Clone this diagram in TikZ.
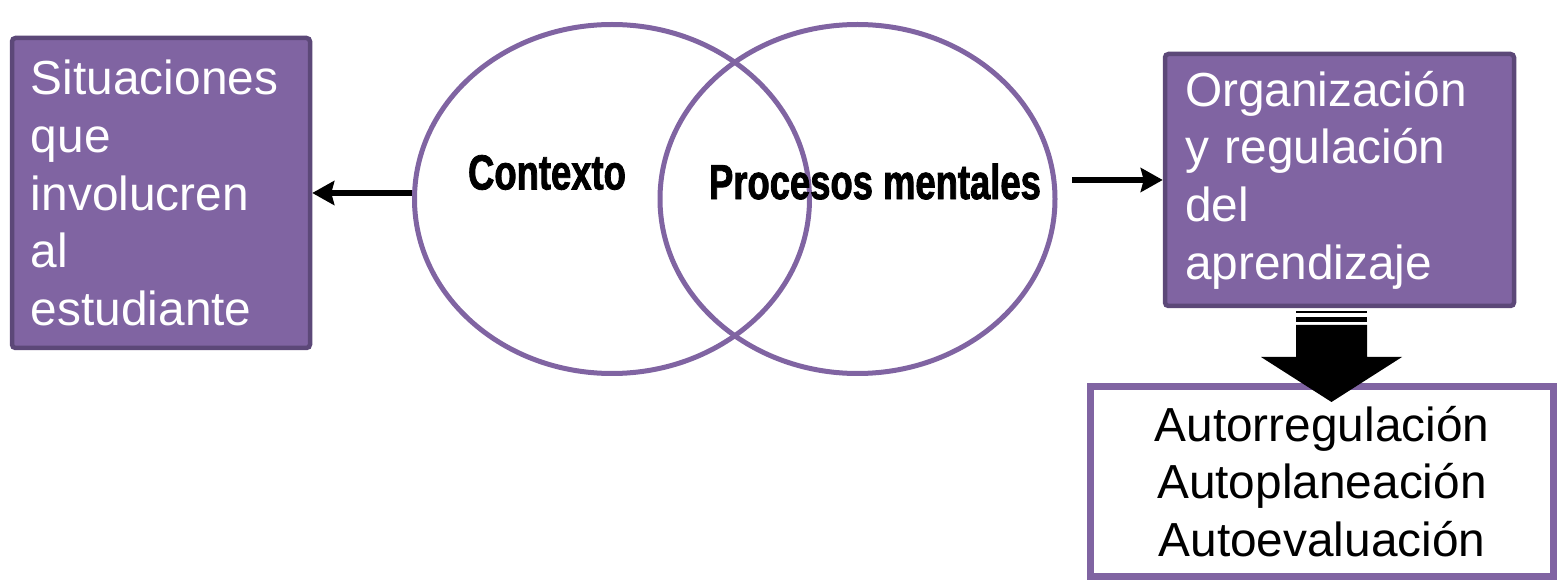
\documentclass[tikz,border=0pt]{standalone}
\usepackage{fontspec}
\setmainfont{Liberation Sans}
\newfontfamily\headfont[FakeStretch=0.74, BoldFeatures={FakeBold=1.6}]{Liberation Sans}
\usetikzlibrary{arrows.meta}
\usetikzlibrary{positioning}
\usetikzlibrary{shapes.geometric}
\definecolor{lila}{HTML}{8064A2}
\definecolor{lilaoscuro}{HTML}{5C4878}
\tikzset{caja/.style = {draw = lilaoscuro, fill = lila, line width = 0.45mm,
                        rounded corners = 1pt, text = white, align = left, inner sep = 0,
                        font = \fontsize{13.6}{16.4}\selectfont}}
\tikzset{circulo/.style = {ellipse, draw = lila, line width = 0.5mm, inner sep = 0,
                           minimum width = 3.95cm, minimum height = 3.49cm}}
\tikzset{titulo/.style = {font = \headfont\bfseries\fontsize{14}{16}\selectfont, inner sep = 0}}
\tikzset{flecha/.style = {line width = 0.65mm, -{Stealth[length = 2.2mm, width = 2.4mm, inset = 0.3mm]}}}

\begin{document}
\begin{tikzpicture}
    \useasboundingbox (0, 0) rectangle (15.58, 5.8);
    \node [circulo] (ctx) at (6.12, 3.81) {};
    \node [circulo] (proc) at (8.575, 3.81) {};
    \node [titulo] (ctxlbl) at (5.47, 4.075) {Contexto};
    \node [titulo] (proclbl) at (8.75, 3.985) {Procesos mentales};
    \node [caja, minimum width = 2.98cm, minimum height = 3.10cm, text width = 2.6cm]
      (izq) at (1.61, 3.87) {Situaciones\\que\\involucren\\al\\estudiante};
    \node [caja, minimum width = 3.49cm, minimum height = 2.52cm, text width = 3.09cm]
      (der) at (13.395, 4.0) {Organización\\y regulación\\del\\aprendizaje};
    \node [draw = lila, fill = white, line width = 0.7mm, inner sep = 0, align = center,
           minimum width = 4.63cm, minimum height = 1.90cm,
           font = \fontsize{13.6}{16.4}\selectfont]
      (auto) at (13.22, 0.985) {Autorregulación\\Autoplaneación\\Autoevaluación};
    \draw [flecha] (ctx.west |- izq.east) -- (izq.east);
    \coordinate (ini) at (10.72, 4.0);
    \draw [flecha] (ini) -- (der.west);
    % big arrow down
    \coordinate (dn) at (13.315, 2.55);
    \fill ([xshift = -3.55mm]dn) -- ++(0.71, 0) -- ++(0, -0.32) -- ++(0.35, 0)
      -- ++(-0.705, -0.45) -- ++(-0.705, 0.45) -- ++(0.35, 0) -- cycle;
    \fill ([xshift = -3.55mm, yshift = 1.4mm]dn) rectangle ([xshift = 3.55mm, yshift = 1.2mm]dn);
    \fill ([xshift = -3.55mm, yshift = 0.8mm]dn) rectangle ([xshift = 3.55mm, yshift = 0.3mm]dn);
\end{tikzpicture}
\end{document}
